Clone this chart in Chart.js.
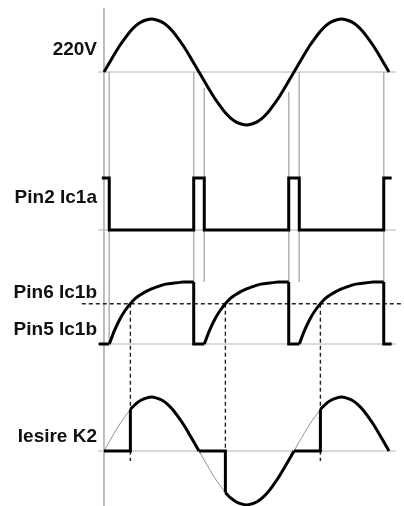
<!DOCTYPE html>
<html>
<head>
<meta charset="utf-8">
<script src="https://cdn.jsdelivr.net/npm/chart.js@4.4.0/dist/chart.umd.min.js"></script>
<style>
  body { margin: 0; background: #fff; }
  canvas { display: block; }
</style>
</head>
<body>
<canvas id="timing" width="404" height="506"></canvas>
<script>
// mains voltage, one sample every 10 degrees from 0 to 540
const sineValues = [
  0, 0.17, 0.34, 0.5, 0.64, 0.77, 0.87, 0.94, 0.98, 1, 0.98, 0.94, 0.87, 0.77, 0.64, 0.5, 0.34, 0.17, 0,
  -0.17, -0.34, -0.5, -0.64, -0.77, -0.87, -0.94, -0.98, -1, -0.98, -0.94, -0.87, -0.77, -0.64, -0.5, -0.34, -0.17, 0,
  0.17, 0.34, 0.5, 0.64, 0.77, 0.87, 0.94, 0.98, 1, 0.98, 0.94, 0.87, 0.77, 0.64, 0.5, 0.34, 0.17, 0
];
const sineStep = 10;

// Pin2 Ic1a: zero-cross detector pulse edges (degrees) and levels
const pin2Times  = [-4, 10, 10, 170, 170, 190, 190, 350, 350, 370, 370, 530, 530, 545];
const pin2Levels = [1, 1, 0, 0, 1, 1, 0, 0, 1, 1, 0, 0, 1, 1];

// Pin5 Ic1b: capacitor charge, sampled every 10 degrees after release
const riseValues = [0, 0.22, 0.40, 0.54, 0.65, 0.74, 0.80, 0.85, 0.89, 0.92, 0.95, 0.97, 0.98, 0.99, 1, 1, 1];
const chargeStarts = [10, 190, 370];
const dischargeTimes = [170, 350, 530];
const pin5Start = -10;
const pin5End = 545;

// Pin6 Ic1b reference level (fraction of full charge)
const threshold = 0.65;

// Iesire K2: trigger instants and the zero crossings that end each conduction
const triggerTimes = [50, 230, 410];
const zeroStarts = [0, 180, 360];
const zeroEnds = [180, 360, 540];

// guide lines
const guideTimes   = [0, 10, 170, 190, 350, 370, 530];
const rowNames     = ['220V', 'Pin2 Ic1a', 'Pin6 Ic1b', 'Pin5 Ic1b', 'Iesire K2'];

// ---- layout (pixels on the y scale) ----
const rows = {
  ac:   { base: 72,  gain: 53 },
  pin2: { base: 230, gain: 52 },
  pin5: { base: 344, gain: 62 },
  k2:   { base: 451, gain: 54 }
};
const guideTops    = [8, 72, 72, 88, 92, 72, 72];
const guideBottoms = [506, 344, 282, 282, 282, 282, 282];
const baseFrom = -11, baseTo = 553;
const labelY = [50, 198, 293, 330, 437];
const GRAY = '#b4b4b4';

const toY = (row, v) => rows[row].base - rows[row].gain * v;
const sineAngles = sineValues.map((_, i) => i * sineStep);
const sineAt = a => sineValues[sineAngles.indexOf(a)];
const sineSlice = (row, from, to) => sineAngles
  .map((a, i) => ({ a, v: sineValues[i] }))
  .filter(p => p.a >= from && p.a <= to)
  .map(p => ({ x: p.a, y: toY(row, p.v) }));

function trace(points, opts) {
  return Object.assign({
    data: points, showLine: true, pointRadius: 0, borderColor: '#000',
    borderWidth: 3, tension: 0, fill: false, clip: false, order: 0,
    borderJoinStyle: 'miter', borderCapStyle: 'butt'
  }, opts);
}
const curve = { cubicInterpolationMode: 'monotone' };
const dashed = { borderColor: '#222', borderWidth: 1.4, borderDash: [4, 3], order: 4 };

const datasets = [];

// gray guides
guideTimes.forEach((t, i) => {
  datasets.push(trace([{ x: t, y: guideTops[i] }, { x: t, y: guideBottoms[i] }],
    { borderColor: GRAY, borderWidth: 1, order: 5 }));
});
Object.keys(rows).forEach(r => {
  datasets.push(trace([{ x: baseFrom, y: rows[r].base }, { x: baseTo, y: rows[r].base }],
    { borderColor: GRAY, borderWidth: 1, order: 5 }));
});

// dashed threshold and trigger lines
const thrY = toY('pin5', threshold);
datasets.push(trace([{ x: -42, y: thrY }, { x: 570, y: thrY }], dashed));
triggerTimes.forEach(t => {
  datasets.push(trace([{ x: t, y: thrY }, { x: t, y: rows.k2.base + 10 }], dashed));
});

// 220V
datasets.push(trace(sineSlice('ac', 0, 540), curve));

// Pin2
datasets.push(trace(pin2Times.map((t, i) => ({ x: t, y: toY('pin2', pin2Levels[i]) }))));

// Pin5 / Pin6
datasets.push(trace([{ x: pin5Start, y: toY('pin5', 0) }, { x: chargeStarts[0], y: toY('pin5', 0) }]));
chargeStarts.forEach((s, k) => {
  const end = dischargeTimes[k];
  const rise = riseValues.map((v, i) => ({ x: s + i * 10, y: toY('pin5', v) })).filter(p => p.x <= end);
  datasets.push(trace(rise, curve));
  const next = k + 1 < chargeStarts.length ? chargeStarts[k + 1] : pin5End;
  datasets.push(trace([
    { x: end, y: toY('pin5', riseValues[riseValues.length - 1]) },
    { x: end, y: toY('pin5', 0) },
    { x: next, y: toY('pin5', 0) }
  ]));
});

// Iesire K2
triggerTimes.forEach((t, k) => {
  datasets.push(trace(sineSlice('k2', zeroStarts[k], t), { borderColor: '#777', borderWidth: 0.8, order: 3 }));
  datasets.push(trace([
    { x: zeroStarts[k], y: toY('k2', 0) },
    { x: t, y: toY('k2', 0) },
    { x: t, y: toY('k2', sineAt(t)) }
  ]));
  datasets.push(trace(sineSlice('k2', t, zeroEnds[k]), curve));
});

const labelPlugin = {
  id: 'rowLabels',
  afterDraw(chart) {
    const ctx = chart.ctx;
    ctx.save();
    ctx.font = 'bold 19px "Liberation Sans", Arial, sans-serif';
    ctx.fillStyle = '#111';
    ctx.textAlign = 'right';
    ctx.textBaseline = 'middle';
    rowNames.forEach((name, i) => ctx.fillText(name, 97, labelY[i]));
    ctx.restore();
  }
};

new Chart(document.getElementById('timing'), {
  type: 'scatter',
  data: { datasets },
  options: {
    responsive: false,
    animation: false,
    layout: { padding: 0 },
    plugins: { legend: { display: false }, tooltip: { enabled: false } },
    scales: {
      x: { type: 'linear', min: -197, max: 568.4, display: false },
      y: { type: 'linear', min: 0, max: 506, reverse: true, display: false }
    }
  },
  plugins: [labelPlugin]
});
</script>
</body>
</html>
